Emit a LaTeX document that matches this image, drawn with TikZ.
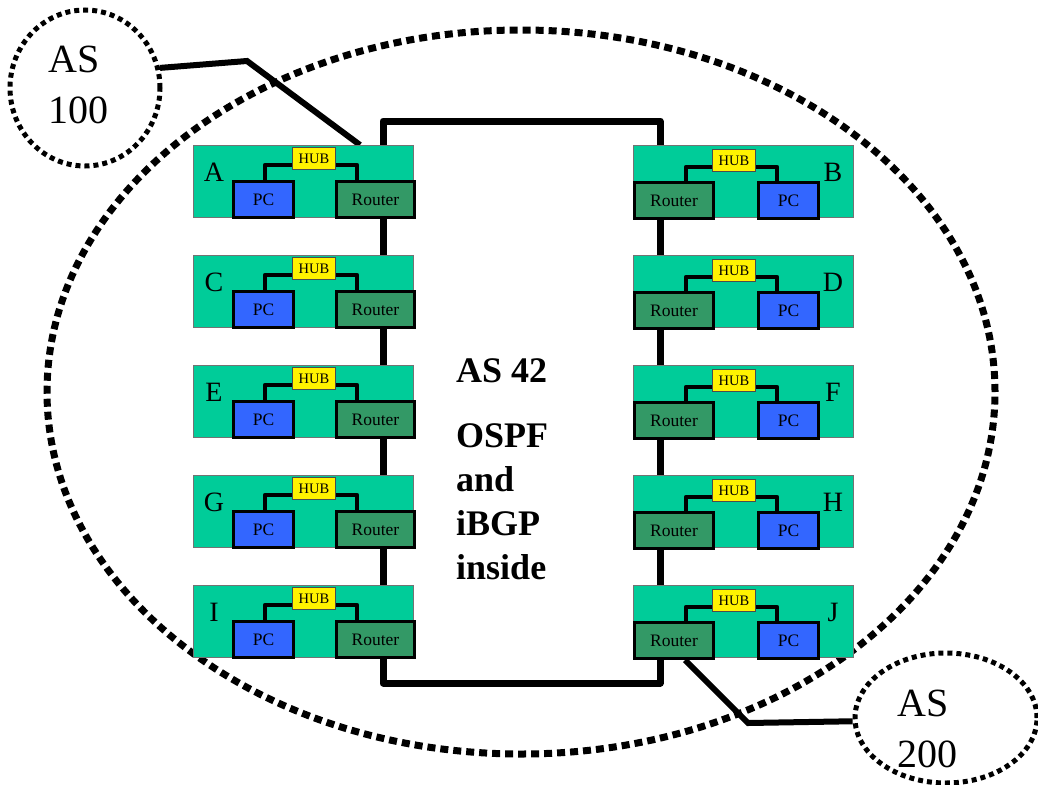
\documentclass[tikz,border=0pt]{standalone}
\usepackage{fontspec}
\setmainfont{Liberation Serif}
\usepackage{xcolor}
\usepackage{tikz}
\usetikzlibrary{positioning,calc,shapes.geometric,backgrounds}

\definecolor{panelgreen}{HTML}{00CC99}
\definecolor{pcblue}{HTML}{3366FF}
\definecolor{routergreen}{HTML}{339966}

\begin{document}
\begin{tikzpicture}[
	x=1pt, y=-1pt,
	panel/.style={draw=black!55, line width=0.8pt, fill=panelgreen, minimum width=220pt, minimum height=72pt, inner sep=0pt, anchor=north west},
	pc/.style={draw, line width=3pt, fill=pcblue, minimum width=60pt, minimum height=36pt, inner sep=0pt, anchor=north west, font=\fontsize{17.5}{20}\selectfont},
	router/.style={draw, line width=3pt, fill=routergreen, minimum width=78pt, minimum height=36pt, inner sep=0pt, anchor=north west, font=\fontsize{17.5}{20}\selectfont},
	hub/.style={draw=black!70, line width=1pt, fill=yellow, minimum width=43pt, minimum height=22pt, inner sep=0pt, anchor=north west, font=\fontsize{14.5}{16}\selectfont},
	wire/.style={line width=4.5pt, line join=round},
	letter/.style={font=\fontsize{28}{30}\selectfont},
	asring/.style={ellipse, draw, line width=5pt, dash pattern=on 5pt off 4pt, inner sep=0pt},
	astext/.style={align=left, inner sep=0pt, anchor=base west, font=\fontsize{40}{51}\selectfont},
	link/.style={line width=6pt, line join=miter}
	]
	\useasboundingbox (0,0) rectangle (1038,784);

	% linke Seite: A C E G I
	\foreach \name [count=\i from 0] in {A,C,E,G,I} {
		\node[panel] (p\name) at (193,{145+110*\i}) {};
		\node[letter] (l\name) at ($(p\name.north west)+(21,27)$) {\name};
		\node[pc] (pc\name) at ($(p\name.north west)+(39,35)$) {PC};
		\node[router] (r\name) at ($(p\name.north west)+(142,35)$) {Router};
		\node[hub] (h\name) at ($(p\name.north west)+(99,2)$) {HUB};
		\draw[wire] ($(pc\name.north west)+(33,0)$) |- ($(h\name.south west)+(0,-5)$);
		\draw[wire] ($(h\name.south east)+(0,-5)$) -| ($(r\name.north west)+(22,0)$);
	}

	% rechte Seite: B D F H J
	\foreach \name [count=\i from 0] in {B,D,F,H,J} {
		\node[panel] (p\name) at (633,{145+110*\i}) {};
		\node[letter] (l\name) at ($(p\name.north west)+(200,27)$) {\name};
		\node[router, minimum width=79pt] (r\name) at ($(p\name.north west)+(0,36)$) {Router};
		\node[pc] (pc\name) at ($(p\name.north west)+(124,36)$) {PC};
		\node[hub] (h\name) at ($(p\name.north west)+(79,4)$) {HUB};
		\draw[wire] ($(r\name.north west)+(53,0)$) |- ($(h\name.south west)+(0,-5)$);
		\draw[wire] ($(h\name.south east)+(0,-5)$) -| ($(pc\name.north west)+(20,0)$);
	}

	% die AS-Ringe aussen (base = letzte Zeile)
	\node[asring, minimum width=150pt, minimum height=156pt] (as100) at (85,88) {};
	\node[astext] (as100txt) at (48,123) {AS\\100};
	\node[asring, minimum width=182pt, minimum height=130pt] (as200) at (946,718) {};
	\node[astext] (as200txt) at (897,767) {AS\\200};

	% Text im Kern
	\node[align=left, inner sep=0pt, anchor=base west, font=\fontsize{36}{44}\selectfont\bfseries] (as42txt) at (456,579)
		{AS 42\\[21pt]OSPF\\and\\iBGP\\inside};

	\begin{scope}[on background layer]
		\draw[line width=7pt, dash pattern=on 8pt off 5pt] (521,392) ellipse [x radius=474pt, y radius=362pt];
		\node[draw, line width=7pt, line join=round, minimum width=277pt, minimum height=562pt, inner sep=0pt] (as42) at (521.5,402) {};
		\coordinate (endA) at ($(pA.north west)+(167,0)$);
		\coordinate (endJ) at ($(rJ.south west)+(52,0)$);
		\draw[link] (as100.15) -- (247,61) -- (endA);
		\draw[link] (as200.182) -- (748,723) -- (endJ);
	\end{scope}
\end{tikzpicture}
\end{document}
